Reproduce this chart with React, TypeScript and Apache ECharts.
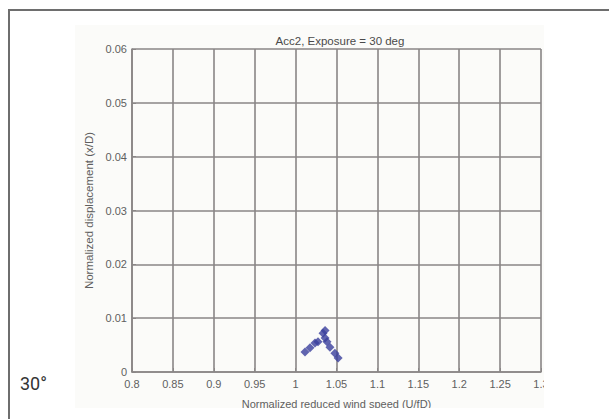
import React, { useEffect, useRef } from "react";
import * as echarts from "echarts";

const titleText = "Acc2, Exposure = 30 deg";
const xAxisName = "Normalized reduced wind speed (U/fD)";
const yAxisName = "Normalized displacement (x/D)";
const panelLabel = "30°";

const xValues = [1.0115, 1.0176, 1.0237, 1.0274, 1.0335, 1.036, 1.036, 1.0384, 1.042, 1.048, 1.052];
const yValues = [0.0037, 0.0045, 0.0054, 0.0056, 0.0072, 0.0077, 0.0063, 0.0056, 0.0046, 0.0035, 0.0026];

const xTickLabels: Record<string, string> = {
  "0.8": "0.8", "0.85": "0.85", "0.9": "0.9", "0.95": "0.95", "1": "1",
  "1.05": "1.05", "1.1": "1.1", "1.15": "1.15", "1.2": "1.2", "1.25": "1.25", "1.3": "1.3",
};

export default function App() {
  const ref = useRef<HTMLDivElement>(null);
  useEffect(() => {
    if (!ref.current) return;
    const chart = echarts.init(ref.current, undefined, { renderer: "svg" });
    const gridColor = "#8a8686";
    const labelColor = "#5f5f5f";
    const font = "Arial, 'Liberation Sans', sans-serif";
    chart.setOption({
      animation: false,
      backgroundColor: "#fbfbf9",
      title: {
        text: titleText,
        left: 260,
        top: 5,
        textAlign: "center",
        textStyle: { fontSize: 11.5, fontWeight: "normal", color: "#4a4a4a", fontFamily: font },
      },
      grid: { left: 57, right: 3, top: 24, bottom: 36, containLabel: false, outerBoundsMode: "none" },
      xAxis: {
        type: "value",
        min: 0.8,
        max: 1.3,
        interval: 0.05,
        name: xAxisName,
        nameLocation: "middle",
        nameGap: 26,
        nameTextStyle: { fontSize: 11, color: labelColor, fontFamily: font },
        axisLine: { show: true, lineStyle: { color: gridColor, width: 1.6 } },
        axisTick: { show: true, inside: true, length: 4, lineStyle: { color: gridColor } },
        splitLine: { show: true, lineStyle: { color: gridColor, width: 1.6 } },
        axisLabel: {
          fontSize: 11,
          color: labelColor,
          fontFamily: font,
          margin: 6,
          formatter: (v: number) => xTickLabels[String(Math.round(v * 100) / 100)] ?? String(v),
        },
      },
      yAxis: {
        type: "value",
        min: 0,
        max: 0.06,
        interval: 0.01,
        name: yAxisName,
        nameLocation: "middle",
        nameGap: 34,
        nameTextStyle: { fontSize: 11.5, color: labelColor, fontFamily: font },
        axisLine: { show: true, lineStyle: { color: gridColor, width: 1.6 } },
        axisTick: { show: true, inside: true, length: 4, lineStyle: { color: gridColor } },
        splitLine: { show: true, lineStyle: { color: gridColor, width: 1.6 } },
        axisLabel: {
          fontSize: 11,
          color: labelColor,
          fontFamily: font,
          margin: 5,
          formatter: (v: number) => String(Math.round(v * 100) / 100),
        },
      },
      series: [
        {
          type: "scatter",
          symbol: "diamond",
          symbolSize: 9,
          itemStyle: { color: "#3a3e9c" },
          data: xValues.map((x, i) => [x, yValues[i]]),
        },
      ],
    });
    return () => chart.dispose();
  }, []);

  return (
    <div style={{ position: "fixed", left: 0, top: 0, width: 609, height: 419, overflow: "hidden", background: "#fff" }}>
      <div
        style={{
          position: "absolute",
          left: 8,
          top: 9,
          width: 700,
          height: 500,
          border: "2px solid #6e6e6e",
          boxSizing: "border-box",
        }}
      />
      <div
        ref={ref}
        style={{ position: "absolute", left: 75, top: 25, width: 469, height: 383, overflow: "hidden" }}
      />
      <div
        style={{
          position: "absolute",
          left: 20,
          top: 374,
          fontFamily: "Roboto, Arial, sans-serif",
          fontSize: 18,
          color: "#333",
          lineHeight: "20px",
        }}
      >
        {panelLabel}
      </div>
    </div>
  );
}
